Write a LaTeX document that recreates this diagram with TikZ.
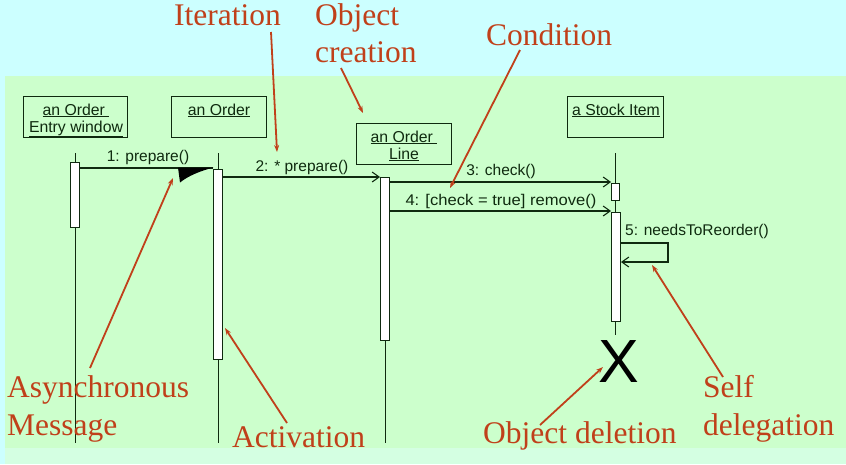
\documentclass[tikz,border=0pt]{standalone}
\usepackage{fontspec}
\setmainfont{Liberation Serif}
\setsansfont{Liberation Sans}
\usetikzlibrary{arrows.meta}
\definecolor{bgcyan}{HTML}{CCFFFF}
\definecolor{panel}{HTML}{CCFFCC}
\definecolor{strip}{HTML}{D4FFE2}
\definecolor{notecol}{HTML}{C0401A}
\definecolor{ink}{HTML}{0F2A0F}
\begin{document}
\begin{tikzpicture}[x=1pt,y=-1pt,
  objbox/.style={draw=ink, line width=1pt, inner sep=0, anchor=north west},
  objtext/.style={font=\sffamily\fontsize{15.8}{17}\selectfont, text=ink, inner sep=0, anchor=base, align=center},
  lifeline/.style={draw=ink, line width=0.8pt},
  actbar/.style={draw=ink, fill=white, line width=0.9pt, inner sep=0, minimum width=9, anchor=north},
  msg/.style={draw=ink, line width=1.1pt, -{Straight Barb[length=7pt,width=10pt,line width=1.1pt]}},
  msgtext/.style={font=\sffamily\fontsize{15.5}{17}\selectfont, text=ink, inner sep=0, anchor=base},
  notetext/.style={font=\fontsize{31.5}{38}\selectfont, text=notecol, inner sep=0, anchor=base west, align=left},
  notearrow/.style={draw=notecol, line width=1.8pt, -{Stealth[length=7pt,width=5pt]}}
]
\useasboundingbox (0,0) rectangle (846,464);
\fill[bgcyan] (0,0) rectangle (846,464);
\fill[panel] (5,76) rectangle (846,448);
\fill[strip] (5,448) rectangle (846,464);

% object boxes
\node[objbox, minimum width=104, minimum height=41] (o1) at (23,96) {};
\node[objbox, minimum width=95, minimum height=41] (o2) at (171,96) {};
\node[objbox, minimum width=95, minimum height=41] (o3) at (356,123) {};
\node[objbox, minimum width=96, minimum height=41] (o4) at (567,96) {};
\node[objtext] (t1) at (76,132) {\underline{an Order\ }\\\underline{Entry window}};
\node[objtext] (t2) at (219,115) {\underline{an Order}};
\node[objtext] (t3) at (404,159) {\underline{an Order\ }\\\underline{Line}};
\node[objtext] (t4) at (616,115) {\underline{a Stock Item}};

% lifelines
\coordinate (l1t) at (75,153); \coordinate (l1b) at (75,443);
\coordinate (l2t) at (218,153); \coordinate (l2b) at (218,443);
\coordinate (l3t) at (385,177); \coordinate (l3b) at (385,443);
\coordinate (l4t) at (615.5,153); \coordinate (l4b) at (615.5,335);
\draw[lifeline] (l1t) -- (l1b);
\draw[lifeline] (l2t) -- (l2b);
\draw[lifeline] (l3t) -- (l3b);
\draw[lifeline] (l4t) -- (l4b);

% activation bars
\node[actbar, minimum height=65] (a1) at (74.5,162) {};
\node[actbar, minimum height=190] (a2) at (218,169) {};
\node[actbar, minimum height=163] (a3) at (385,177) {};
\node[actbar, minimum width=8, minimum height=17] (a4) at (615.5,183) {};
\node[actbar, minimum height=109] (a5) at (616,212) {};

% message rows
\coordinate (y1) at (0,168);
\coordinate (y2) at (0,177);
\coordinate (y3) at (0,182);
\coordinate (y4) at (0,211);
\coordinate (y5a) at (0,243);
\coordinate (y5b) at (0,262);
\coordinate (loopx) at (668,0);

% 1: async
\draw[draw=ink, line width=1.1pt] (a1.east |- y1) -- (a2.west |- y1);
\fill[black] (178,167.5) -- (213.5,167.5) .. controls (200,171) and (188,176) .. (180,182.5) -- cycle;
\node[msgtext] (m1) at (148,161) {1: prepare()};
% 2
\draw[msg] (a2.east |- y2) -- (a3.west |- y2);
\node[msgtext] (m2) at (302,171) {2: * prepare()};
% 3
\draw[msg] (a3.east |- y3) -- (a4.west |- y3);
\node[msgtext] (m3) at (501,175) {3: check()};
% 4
\draw[msg] (a3.east |- y4) -- (a5.west |- y4);
\node[msgtext] (m4) at (501,205) {\scalebox{1.07}[1]{4: [check = true] remove()}};
% 5 self
\draw[msg] (a5.east |- y5a) -- (loopx |- y5a) -- (loopx |- y5b) -- (a5.east |- y5b);
\node[msgtext] (m5) at (697,235) {5: needsToReorder()};

% deletion
\node[font=\sffamily\fontsize{61}{61}\selectfont, text=black, inner sep=0] (del) at (619,362) {X};

% annotations
\node[notetext] (n1) at (174,25) {Iteration};
\node[notetext, font=\fontsize{31.5}{37}\selectfont] (n2) at (315,62) {Object\\creation};
\node[notetext] (n3) at (486,45) {Condition};
\node[notetext] (n4) at (7,435) {Asynchronous\\Message};
\node[notetext] (n5) at (232,447) {Activation};
\node[notetext] (n6) at (483,443) {Object deletion};
\node[notetext] (n7) at (703,435) {Self\\delegation};

\coordinate (s1) at (271,32);  \coordinate (e1) at (277,152);
\coordinate (s2) at (341,68);  \coordinate (e2) at (363,113);
\coordinate (s3) at (520,50);  \coordinate (e3) at (450,188);
\coordinate (s4) at (90,368);  \coordinate (e4) at (173,178);
\coordinate (s5) at (287,423); \coordinate (e5) at (225,328);
\coordinate (s6) at (540,425); \coordinate (e6) at (603,367);
\coordinate (s7) at (723,377); \coordinate (e7) at (652,265);
\draw[notearrow] (s1) -- (e1);
\draw[notearrow] (s2) -- (e2);
\draw[notearrow] (s3) -- (e3);
\draw[notearrow] (s4) -- (e4);
\draw[notearrow] (s5) -- (e5);
\draw[notearrow] (s6) -- (e6);
\draw[notearrow] (s7) -- (e7);
\end{tikzpicture}
\end{document}
